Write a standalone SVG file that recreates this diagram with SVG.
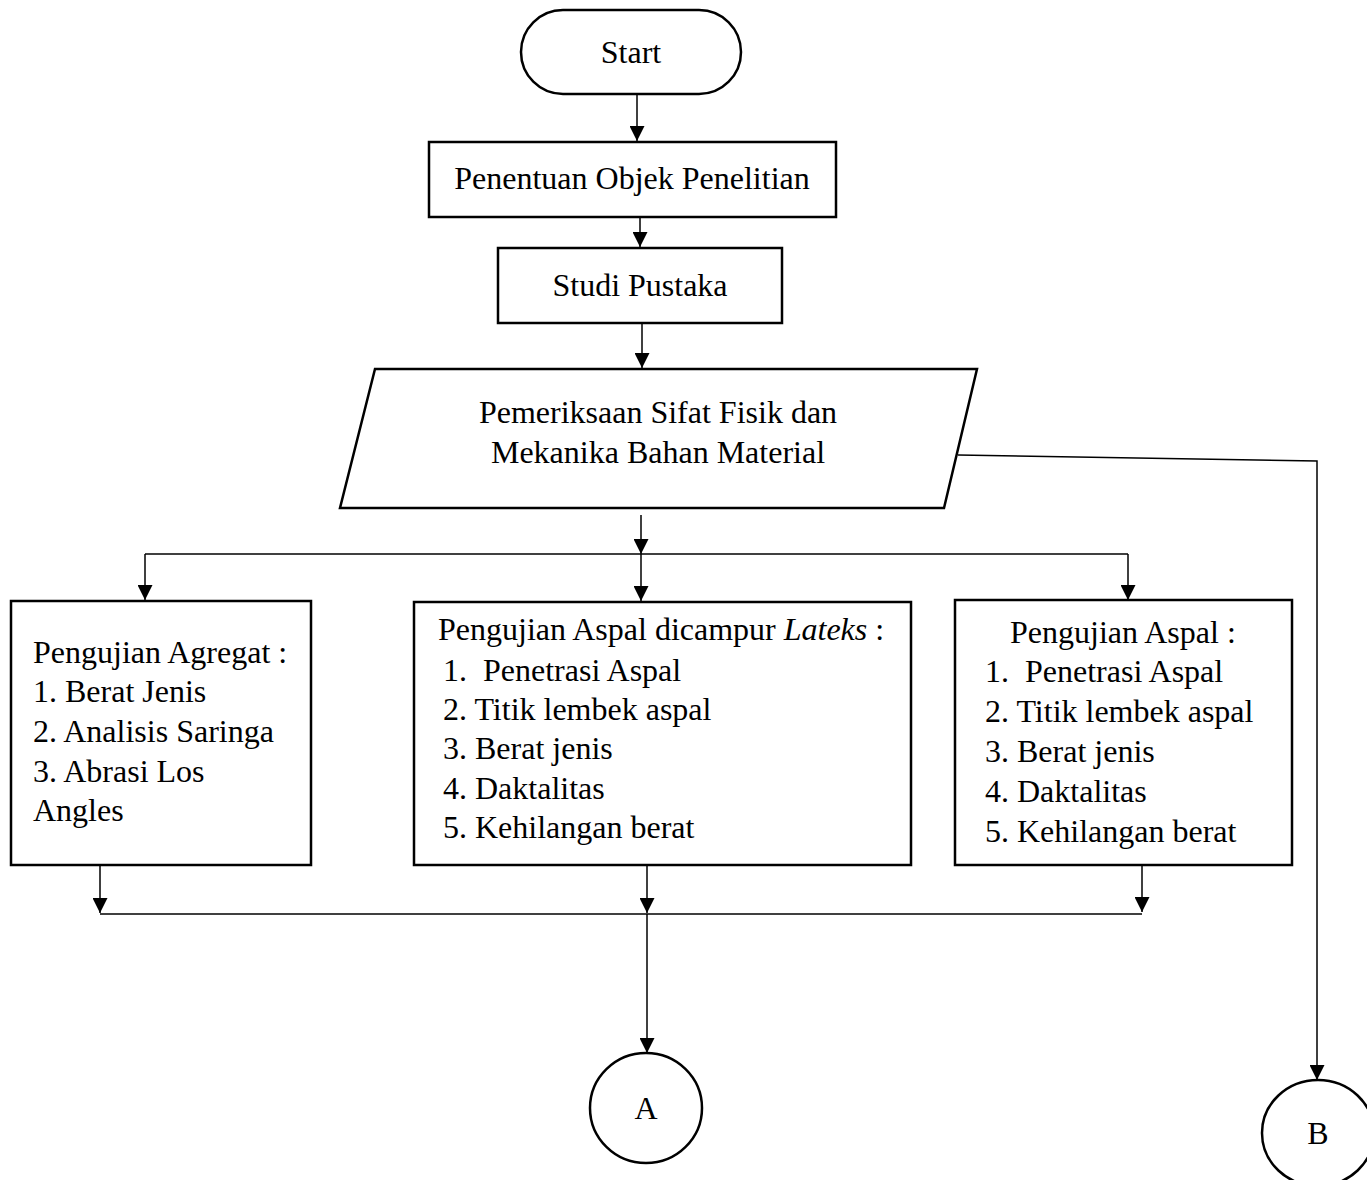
<svg xmlns="http://www.w3.org/2000/svg" width="1367" height="1180" viewBox="0 0 1367 1180">
<style>
.shape{fill:#fff;stroke:#000;stroke-width:2.5}
.conn{fill:none;stroke:#000;stroke-width:1.5}
text{font-family:"Liberation Serif","Times New Roman",serif;font-size:32px;fill:#000}
.c{text-anchor:middle}
</style>
<defs>
<marker id="arr" markerUnits="userSpaceOnUse" viewBox="0 0 15 15" markerWidth="15" markerHeight="15" refX="15" refY="7.5" orient="auto">
<path d="M0,0 L15,7.5 L0,15 z" fill="#000"/>
</marker>
</defs>
<rect width="1367" height="1180" fill="#fff"/>
<g id="connectors">
<path class="conn" d="M637,95 V141" marker-end="url(#arr)"/>
<path class="conn" d="M640,217 V247" marker-end="url(#arr)"/>
<path class="conn" d="M642,324 V368" marker-end="url(#arr)"/>
<path class="conn" d="M641,515 V554" marker-end="url(#arr)"/>
<path class="conn" d="M145,554 H1128"/>
<path class="conn" d="M145,554 V600" marker-end="url(#arr)"/>
<path class="conn" d="M641,554 V601" marker-end="url(#arr)"/>
<path class="conn" d="M1128,554 V600" marker-end="url(#arr)"/>
<path class="conn" d="M100,865 V913" marker-end="url(#arr)"/>
<path class="conn" d="M647,865 V913" marker-end="url(#arr)"/>
<path class="conn" d="M1142,865 V912" marker-end="url(#arr)"/>
<path class="conn" d="M100,914 H1142"/>
<path class="conn" d="M647,914 V1053" marker-end="url(#arr)"/>
<path class="conn" d="M958,455 L1317,461 V1080" marker-end="url(#arr)"/>
</g>
<g id="start">
<rect class="shape" x="521" y="10" width="220" height="84" rx="42" ry="42"/>
<text class="c" x="631" y="63">Start</text>
</g>
<g id="penentuan">
<rect class="shape" x="429" y="142" width="407" height="75"/>
<text class="c" x="632" y="189">Penentuan Objek Penelitian</text>
</g>
<g id="studi">
<rect class="shape" x="498" y="248" width="284" height="75"/>
<text class="c" x="640" y="296">Studi Pustaka</text>
</g>
<g id="pemeriksaan">
<polygon class="shape" points="375,369 977,369 944,508 340,508"/>
<text class="c" x="658" y="423">Pemeriksaan Sifat Fisik dan</text>
<text class="c" x="658" y="463">Mekanika Bahan Material</text>
</g>
<g id="agregat">
<rect class="shape" x="11" y="601" width="300" height="264"/>
<text x="33" y="663">Pengujian Agregat :</text>
<text x="33" y="702">1. Berat Jenis</text>
<text x="33" y="742">2. Analisis Saringa</text>
<text x="33" y="782">3. Abrasi Los</text>
<text x="33" y="821">Angles</text>
</g>
<g id="aspal-lateks">
<rect class="shape" x="414" y="602" width="497" height="263"/>
<text x="438" y="640">Pengujian Aspal dicampur <tspan font-style="italic">Lateks</tspan> :</text>
<text x="443" y="681" xml:space="preserve">1.  Penetrasi Aspal</text>
<text x="443" y="720">2. Titik lembek aspal</text>
<text x="443" y="759">3. Berat jenis</text>
<text x="443" y="799">4. Daktalitas</text>
<text x="443" y="838">5. Kehilangan berat</text>
</g>
<g id="aspal">
<rect class="shape" x="955" y="600" width="337" height="265"/>
<text x="1010" y="643">Pengujian Aspal :</text>
<text x="985" y="682" xml:space="preserve">1.  Penetrasi Aspal</text>
<text x="985" y="722">2. Titik lembek aspal</text>
<text x="985" y="762">3. Berat jenis</text>
<text x="985" y="802">4. Daktalitas</text>
<text x="985" y="842">5. Kehilangan berat</text>
</g>
<g id="A">
<ellipse class="shape" cx="646" cy="1108" rx="56" ry="55"/>
<text class="c" x="646" y="1119" font-size="30">A</text>
</g>
<g id="B">
<ellipse class="shape" cx="1318" cy="1133" rx="56" ry="53"/>
<text class="c" x="1318" y="1144" font-size="30">B</text>
</g>
</svg>
